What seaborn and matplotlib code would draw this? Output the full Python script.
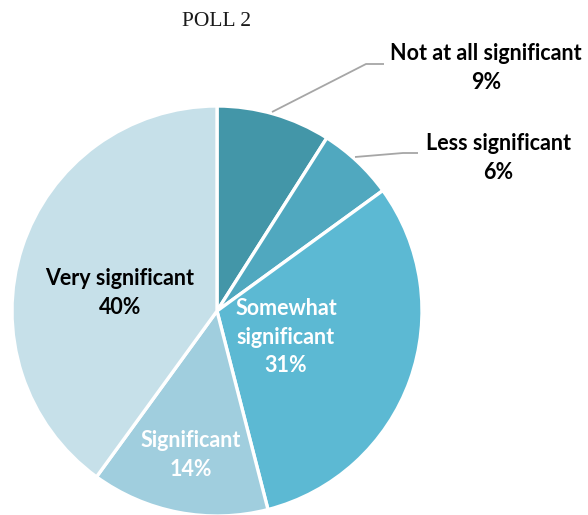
import matplotlib
matplotlib.use("Agg")
import matplotlib.pyplot as plt
import seaborn as sns

# Poll results, in drawing order (clockwise from 12 o'clock)
categories = ["Not at all significant", "Less significant", "Somewhat significant",
              "Significant", "Very significant"]
shares = [9, 6, 31, 14, 40]
slice_colors = ["#4396a8", "#50a8bf", "#5cb9d3", "#a0cede", "#c6e0e9"]

sns.set_theme(style="white")
plt.rcParams["font.family"] = ["Lato", "DejaVu Sans"]

W, H = 588, 515
fig = plt.figure(figsize=(W / 100, H / 100), dpi=100)
ax = fig.add_axes([0, 0, 1, 1])

cx, cy, r = 217, H - 311, 205
palette = sns.color_palette(slice_colors)
ax.pie(shares, colors=palette, startangle=90, counterclock=False,
       center=(cx, cy), radius=r, frame=True,
       wedgeprops=dict(edgecolor="white", linewidth=2.4))
ax.set_xlim(0, W)
ax.set_ylim(0, H)
ax.set_aspect("equal")
ax.axis("off")

def py(y):
    return H - y

# Title
ax.text(217, py(22), "POLL 2", ha="center", va="center",
        fontsize=15.5, family=["Liberation Serif", "DejaVu Serif"], color="#1a1a1a")

# Leader lines for the two small outside labels
lead = "#a6a6a6"
ax.plot([272, 366, 384], [py(112), py(64), py(64)], color=lead, lw=1.3, solid_capstyle="butt")
ax.plot([355, 403, 418], [py(157), py(153), py(153)], color=lead, lw=1.3, solid_capstyle="butt")

fs = 15.5
def label(x, y, text, color):
    ax.text(x, py(y), text, ha="center", va="center", fontsize=fs,
            fontweight="bold", color=color, linespacing=1.45)

label(486, 68, f"{categories[0]}\n{shares[0]}%", "black")
label(498, 158, f"{categories[1]}\n{shares[1]}%", "black")
label(120, 293, f"Very significant\n{shares[4]}%", "black")
label(286, 337, f"Somewhat\nsignificant\n{shares[2]}%", "white")
label(191, 455, f"{categories[3]}\n{shares[3]}%", "white")

fig.savefig("out.png", dpi=100)
